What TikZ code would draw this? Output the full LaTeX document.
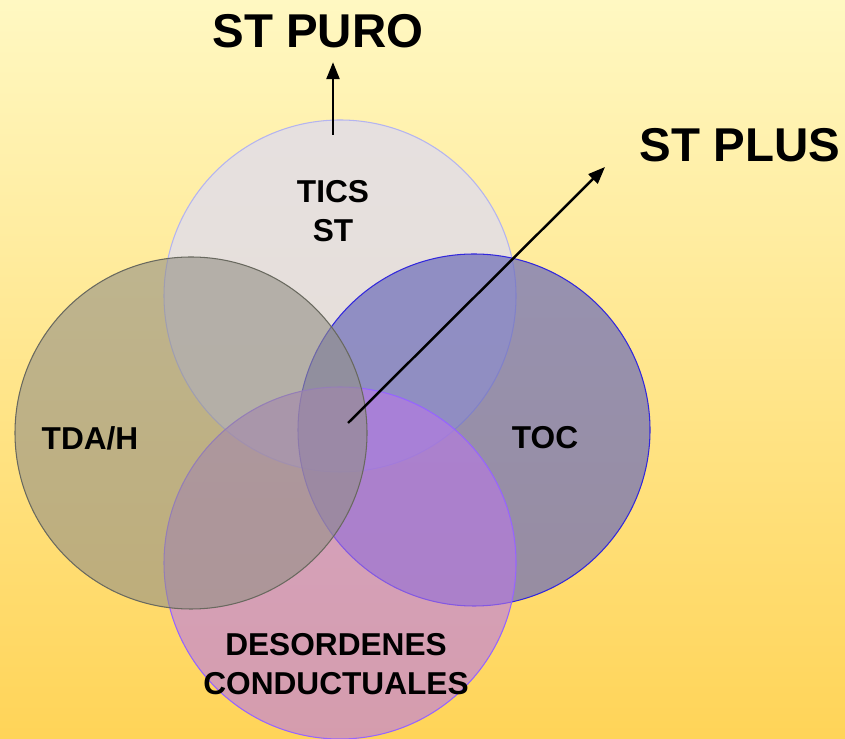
\documentclass[tikz,border=0pt]{standalone}
\usepackage{fontspec}
\setmainfont{Liberation Sans}
\usetikzlibrary{arrows.meta,positioning}
\definecolor{bgtop}{RGB}{255,248,194}
\definecolor{bgbot}{RGB}{255,212,88}
\definecolor{ticsfill}{RGB}{226,222,232}
\definecolor{ticsline}{RGB}{180,180,240}
\definecolor{tdafill}{RGB}{147,144,134}
\definecolor{tdaline}{RGB}{105,105,95}
\definecolor{tocfill}{RGB}{108,108,185}
\definecolor{tocline}{RGB}{50,40,220}
\definecolor{desfill}{RGB}{185,120,230}
\definecolor{desline}{RGB}{150,100,255}
\tikzset{
  setcirc/.style={circle, minimum size=7.04cm, inner sep=0pt, line width=0.6pt},
  lbl/.style={font=\bfseries\fontsize{18}{22.5}\selectfont, align=center, text=black},
  biglbl/.style={font=\bfseries\fontsize{27}{30}\selectfont, text=black, inner sep=0pt},
  pointer/.style={-{Triangle[length=3.4mm,width=2.6mm]}, line width=1.4pt},
}

\begin{document}
\begin{tikzpicture}
      \useasboundingbox (0,0) rectangle (16.9,14.76);
      % background
      \shade[top color=bgtop, bottom color=bgbot] (0,0) rectangle (16.9,14.76);
      % the four sets
      \node[setcirc, draw=ticsline, fill=ticsfill, fill opacity=0.85] (tics) at (6.8,8.84) {};
      \node[setcirc, draw=tocline, fill=tocfill, fill opacity=0.7] (toc) at (9.48,6.16) {};
      \node[setcirc, draw=desline, fill=desfill, fill opacity=0.6] (des) at (6.8,3.50) {};
      \node[setcirc, draw=tdaline, fill=tdafill, fill opacity=0.6] (tda) at (3.82,6.10) {};
      % outcomes
      \node[biglbl] (puro) at (6.36,14.14) {ST PURO};
      \node[biglbl] (plus) at (14.8,11.86) {ST PLUS};
      \coordinate (purostart) at (6.66,12.06);
      \coordinate (plusstart) at (6.96,6.30);
      \coordinate (plustip) at (12.1,11.42);
      \draw[pointer, shorten >=8pt] (purostart) -- (purostart |- puro.south);
      \draw[pointer] (plusstart) -- (plustip);
      % set labels
      \node[lbl] (ticslbl) at (6.66,10.54) {TICS\\ST};
      \node[lbl] (tdalbl) at (1.8,6.0) {TDA/H};
      \node[lbl] (toclbl) at (10.9,6.0) {TOC};
      \node[lbl] (deslbl) at (6.72,1.48) {DESORDENES\\CONDUCTUALES};
    \end{tikzpicture}
\end{document}
